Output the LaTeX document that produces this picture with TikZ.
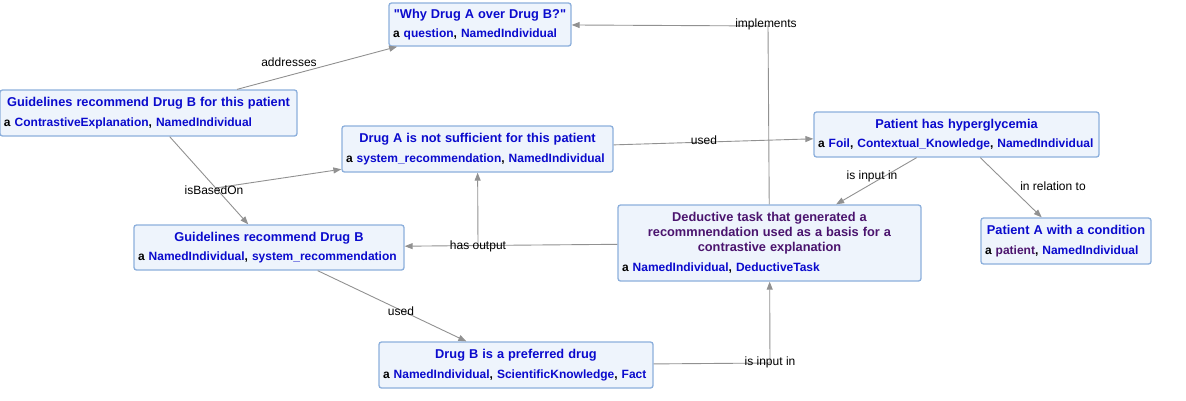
\documentclass[tikz,border=0pt]{standalone}
\usepackage{fontspec}
\setmainfont{Liberation Sans}
\newfontfamily\nqfont{Liberation Sans}
\usetikzlibrary{arrows.meta}
\definecolor{tb}{RGB}{10,10,205}
\definecolor{tp}{RGB}{75,20,110}
\definecolor{boxfill}{RGB}{238,244,252}
\definecolor{boxline}{RGB}{140,175,220}
\definecolor{edgec}{RGB}{145,145,145}
\newcommand\ttlb[1]{{\centering\fontsize{12.8}{15}\selectfont\color{tb}#1\par}}
\newcommand\ttlp[1]{{\centering\fontsize{12.8}{15}\selectfont\color{tp}#1\par}}
\newcommand\subl[1]{{\raggedright\vspace{4.5pt}\mbox{#1}\par}}
\newcommand\cl[1]{\textcolor{tb}{#1}}
\newcommand\dq{{\nqfont"}}
\begin{document}
\begin{tikzpicture}[x=1pt,y=-1pt,
  box/.style={draw=boxline,fill=boxfill,rounded corners=2.5pt,line width=1.3pt,
    inner xsep=4pt,inner ysep=4pt,font=\bfseries\fontsize{12}{15}\selectfont},
  edge/.style={draw=edgec,line width=0.9pt,-{Triangle[length=8pt,width=6pt]}},
  lbl/.style={font=\fontsize{12}{14}\selectfont,inner sep=0pt,text=black}]
\useasboundingbox (0,0) rectangle (1186,400);
% nodes
\node[box,text width=174pt,minimum height=43pt] (q) at (480,24.5)
  {\ttlb{\dq Why Drug A over Drug B?\dq}\subl{a \cl{question}, \cl{NamedIndividual}}};
\node[box,text width=289pt,minimum height=46pt] (ce) at (148.5,113)
  {\ttlb{Guidelines recommend Drug B for this patient}\subl{a \cl{ContrastiveExplanation}, \cl{NamedIndividual}}};
\node[box,text width=263pt,minimum height=46pt] (da) at (477.5,149)
  {\ttlb{Drug A is not sufficient for this patient}\subl{a \cl{system\_recommendation}, \cl{NamedIndividual}}};
\node[box,text width=277pt,minimum height=45pt] (ph) at (956.5,134.5)
  {\ttlb{Patient has hyperglycemia}\subl{a \cl{Foil}, \cl{Contextual\_Knowledge}, \cl{NamedIndividual}}};
\node[box,text width=262pt,minimum height=45pt] (gb) at (269,247.5)
  {\ttlb{Guidelines recommend Drug B}\subl{a \cl{NamedIndividual}, \cl{system\_recommendation}}};
\node[box,text width=295pt,minimum height=76pt] (dt) at (769.5,243)
  {\ttlp{Deductive task that generated a\\ recommnendation used as a basis for a\\ contrastive explanation}\subl{a \cl{NamedIndividual}, \cl{DeductiveTask}}};
\node[box,text width=162pt,minimum height=46pt] (pa) at (1066,241)
  {\ttlb{Patient A with a condition}\subl{a \textcolor{tp}{patient}, \cl{NamedIndividual}}};
\node[box,text width=266pt,minimum height=46pt] (db) at (516,365)
  {\ttlb{Drug B is a preferred drug}\subl{a \cl{NamedIndividual}, \cl{ScientificKnowledge}, \cl{Fact}}};
% bend coordinates
\coordinate (ib) at (215.7,188);
\coordinate (ho) at (478,245.5);
\coordinate (im) at (768,26);
\coordinate (ii) at (770,363);
% edges
\draw[edge] (ce) -- (q);
\draw[edge] (ce) -- (gb);
\draw[edge] (ib) -- (da);
\draw[edge] (da) -- (ph);
\draw[edge] (ph) -- (dt);
\draw[edge] (ph) -- (pa);
\draw[edge] (dt) -- (ho) -- (gb);
\draw[edge] (ho) -- (da);
\draw[edge] (dt) -- (im) -- (q);
\draw[edge] (db) -- (ii) -- (dt);
\draw[edge] (gb) -- (db);
% labels
\node[lbl] (l1) at (289,62) {addresses};
\node[lbl] (l2) at (214,190) {isBasedOn};
\node[lbl] (l3) at (704,140) {used};
\node[lbl] (l4) at (872,176) {is input in};
\node[lbl] (l5) at (1053,186) {in relation to};
\node[lbl] (l6) at (478,246) {has output};
\node[lbl] (l7) at (766,24) {implements};
\node[lbl] (l8) at (770,362) {is input in};
\node[lbl] (l9) at (401,311) {used};
\end{tikzpicture}
\end{document}
